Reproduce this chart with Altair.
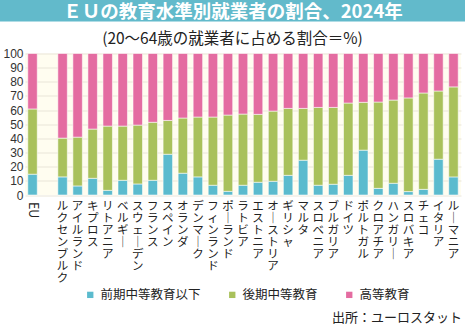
import altair as alt
import pandas as pd

countries = ["EU", "ルクセンブルク", "アイルランド", "キプロス", "リトアニア", "ベルギー",
             "スウェーデン", "フランス", "スペイン", "オランダ", "デンマーク", "フィンランド",
             "ポーランド", "ラトビア", "エストニア", "オーストリア", "ギリシャ", "マルタ",
             "スロベニア", "ブルガリア", "ドイツ", "ポルトガル", "クロアチア", "ハンガリー",
             "スロバキア", "チェコ", "イタリア", "ルーマニア"]
low = [14.7, 12.8, 6.4, 11.8, 3.3, 10.4, 7.8, 10.4, 28.8, 15.4, 12.8, 6.9, 2.6, 6.9,
       9.0, 9.7, 13.9, 24.6, 6.9, 7.6, 13.9, 31.7, 4.7, 8.3, 2.4, 4.0, 25.3, 12.8]
mid = [46.1, 27.4, 34.5, 34.8, 45.4, 38.3, 41.6, 41.0, 23.9, 39.0, 42.3, 48.2, 53.9, 50.3,
       48.0, 49.6, 47.3, 36.6, 55.0, 54.3, 51.1, 33.8, 61.0, 58.8, 66.2, 68.1, 48.2, 63.6]
high = [39.2, 59.8, 59.1, 53.4, 51.3, 51.3, 50.6, 48.6, 47.3, 45.6, 44.9, 44.9, 43.5, 42.8,
        43.0, 40.7, 38.8, 38.8, 38.1, 38.1, 35.0, 34.5, 34.3, 32.9, 31.4, 27.9, 26.5, 23.6]
levels = ["前期中等教育以下", "後期中等教育", "高等教育"]
colors = ["#5BBBCE", "#A9C15B", "#E46CA1"]

TITLE = "ＥＵの教育水準別就業者の割合、2024年"
SUBTITLE = "(20～64歳の就業者に占める割合＝%)"
SOURCE = "出所：ユーロスタット"
GAP = " "
JP = "Noto Sans CJK JP"

W, H = 436, 141.5
TOP, LEFT = 53.5, 25

domain = [countries[0], GAP] + countries[1:]

rows = []
for i, c in enumerate(countries):
    for j, (lv, vals) in enumerate(zip(levels, [low, mid, high])):
        rows.append({"国": c, "区分": lv, "値": vals[i], "順": j})
df = pd.DataFrame(rows)

lab_df = pd.DataFrame({
    "国": countries[1:],
    "縦": ["\n".join("｜" if ch == "ー" else ch for ch in c) for c in countries[1:]],
})
eu_df = pd.DataFrame({"国": [countries[0]], "t": [countries[0]]})
one = pd.DataFrame({"a": [0]})

xscale = alt.Scale(domain=domain, paddingInner=0.37, paddingOuter=0.185)

bars = alt.Chart(df).mark_bar(stroke="white", strokeWidth=1, strokeOpacity=0.55).encode(
    x=alt.X("国:N", scale=xscale,
            axis=alt.Axis(title=None, labels=False, tickBand="extent", domainColor="#333",
                          domainWidth=1, tickColor="#999", tickSize=4, grid=False)),
    y=alt.Y("値:Q", stack="zero", scale=alt.Scale(domain=[0, 100], nice=False),
            axis=alt.Axis(values=list(range(0, 101, 10)), title=None, domain=False, ticks=False,
                          labelFont="Liberation Sans", labelFontSize=12, labelColor="#333",
                          labelPadding=2, gridColor="#E9E5D8", gridWidth=1)),
    color=alt.Color("区分:N", scale=alt.Scale(domain=levels, range=colors),
                    legend=alt.Legend(title=None, orient="none", legendX=59, legendY=235,
                                      direction="horizontal", columns=3, symbolType="square",
                                      symbolSize=40, symbolStrokeWidth=0, labelFont=JP,
                                      labelFontSize=12.5, labelColor="#222", columnPadding=25,
                                      labelOffset=4, padding=0)),
    order=alt.Order("順:Q"),
)

xlabels = alt.Chart(lab_df).mark_text(
    lineBreak="\n", baseline="top", align="center", font=JP, fontSize=11.5, lineHeight=12,
    color="#222").encode(
    x=alt.X("国:N", scale=xscale, axis=None),
    y=alt.value(H + 5.5),
    text="縦:N",
)

eulabel = alt.Chart(eu_df).mark_text(
    angle=90, align="left", baseline="middle", font=JP, fontSize=12.5, color="#222").encode(
    x=alt.X("国:N", scale=xscale, axis=None),
    y=alt.value(H + 7),
    text="t:N",
)

title_bar = alt.Chart(one).mark_rect(color="#62BACB").encode(
    x=alt.value(-LEFT), x2=alt.value(465 - LEFT), y=alt.value(-TOP), y2=alt.value(-TOP + 21.5))
title_txt = alt.Chart(one).mark_text(
    text=TITLE, font=JP, fontSize=18.5, fontWeight="bold", color="white",
    align="center", baseline="middle").encode(
    x=alt.value(233 - LEFT), y=alt.value(-TOP + 11.5))
sub_txt = alt.Chart(one).mark_text(
    text=SUBTITLE, font=JP, fontSize=15.5, color="#222",
    align="center", baseline="middle").encode(
    x=alt.value(232.5 - LEFT), y=alt.value(39 - TOP))
src_txt = alt.Chart(one).mark_text(
    text=SOURCE, font=JP, fontSize=13, color="#222",
    align="right", baseline="middle").encode(
    x=alt.value(462 - LEFT), y=alt.value(317.5 - TOP))

chart = alt.layer(bars, xlabels, eulabel, title_bar, title_txt, sub_txt, src_txt).properties(
    width=W, height=H,
    autosize=alt.AutoSizeParams(type="none"),
    padding={"left": LEFT, "top": TOP, "right": 465 - LEFT - W, "bottom": 327 - TOP - H},
    background="white",
).configure_view(fill="#FFFDF0", stroke=None)

chart.save("out.html", embed_options={"renderer": "svg", "actions": False})
